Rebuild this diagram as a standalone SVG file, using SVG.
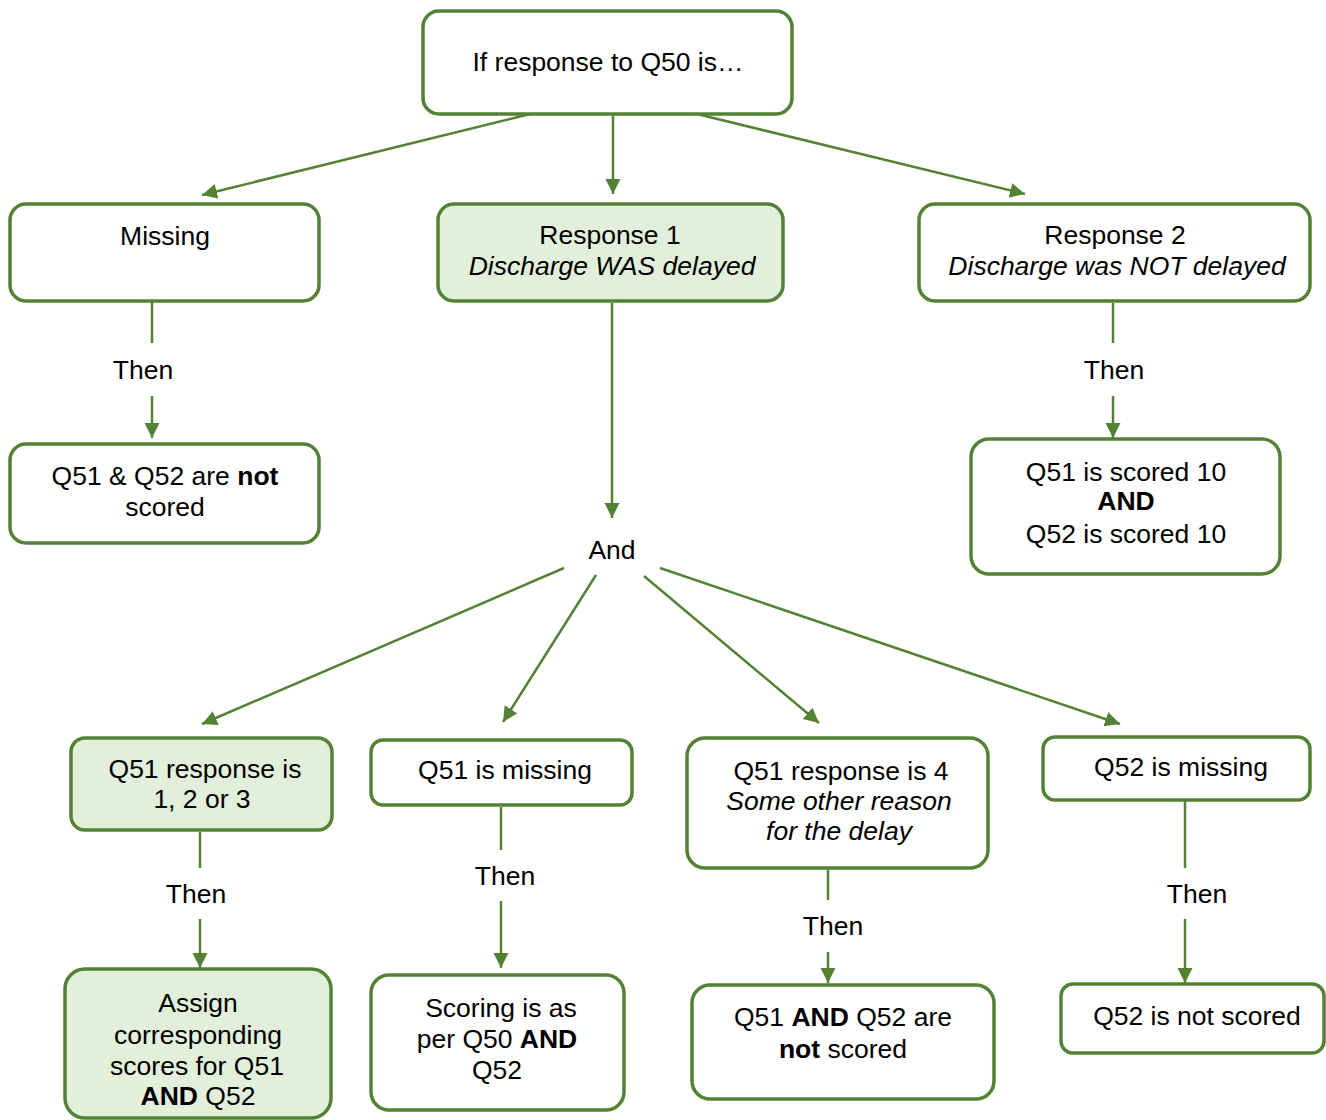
<svg xmlns="http://www.w3.org/2000/svg" width="1326" height="1120" viewBox="0 0 1326 1120">
<defs>
<style>
.box{fill:#ffffff;stroke:#548235;stroke-width:3.5}
.g{fill:#e2efda}
.c{stroke:#548235;stroke-width:2.5;fill:none}
text{font-family:"Liberation Sans",Arial,sans-serif;font-size:26.5px;fill:#000;text-anchor:middle}
.b{font-weight:bold}
.i{font-style:italic}
</style>
<marker id="ah" viewBox="0 0 10 10" refX="10" refY="5" markerWidth="6" markerHeight="6.4" orient="auto" markerUnits="strokeWidth">
<path d="M0,0 L10,5 L0,10 Z" fill="#548235"/>
</marker>
</defs>
<rect width="1326" height="1120" fill="#ffffff"/>
<g id="connectors">
<line class="c" x1="530" y1="114" x2="202" y2="195" marker-end="url(#ah)"/>
<line class="c" x1="613" y1="114" x2="613" y2="194" marker-end="url(#ah)"/>
<line class="c" x1="697" y1="114" x2="1025" y2="194" marker-end="url(#ah)"/>
<line class="c" x1="152" y1="302" x2="152" y2="343"/>
<line class="c" x1="152" y1="396" x2="152" y2="438" marker-end="url(#ah)"/>
<line class="c" x1="612" y1="303" x2="612" y2="518" marker-end="url(#ah)"/>
<line class="c" x1="1113" y1="303" x2="1113" y2="343"/>
<line class="c" x1="1113" y1="396" x2="1113" y2="438" marker-end="url(#ah)"/>
<line class="c" x1="564" y1="568" x2="202" y2="724" marker-end="url(#ah)"/>
<line class="c" x1="596" y1="575" x2="503" y2="722" marker-end="url(#ah)"/>
<line class="c" x1="644" y1="576" x2="819" y2="723" marker-end="url(#ah)"/>
<line class="c" x1="660" y1="568" x2="1120" y2="724" marker-end="url(#ah)"/>
<line class="c" x1="200" y1="832" x2="200" y2="868"/>
<line class="c" x1="200" y1="919" x2="200" y2="968" marker-end="url(#ah)"/>
<line class="c" x1="501" y1="807" x2="501" y2="850"/>
<line class="c" x1="501" y1="901" x2="501" y2="968" marker-end="url(#ah)"/>
<line class="c" x1="828" y1="870" x2="828" y2="900"/>
<line class="c" x1="828" y1="952" x2="828" y2="983" marker-end="url(#ah)"/>
<line class="c" x1="1185" y1="801" x2="1185" y2="868"/>
<line class="c" x1="1185" y1="919" x2="1185" y2="983" marker-end="url(#ah)"/>
</g>
<g id="labels">
<text x="143" y="379">Then</text>
<text x="1114" y="379">Then</text>
<text x="612" y="559">And</text>
<text x="196" y="903">Then</text>
<text x="505" y="885">Then</text>
<text x="833" y="935">Then</text>
<text x="1197" y="903">Then</text>
</g>
<g id="n_top"><rect class="box" x="423" y="11" width="369" height="103" rx="16"/><text x="608" y="71">If response to Q50 is…</text></g>
<g id="n_missing"><rect class="box" x="10" y="204" width="309" height="97" rx="16"/><text x="165" y="245">Missing</text></g>
<g id="n_resp1"><rect class="box g" x="438" y="204" width="345" height="97" rx="16"/><text x="610" y="244">Response 1</text><text x="612" y="275" class="i">Discharge WAS delayed</text></g>
<g id="n_resp2"><rect class="box" x="919" y="204" width="391" height="97" rx="16"/><text x="1115" y="244">Response 2</text><text x="1117" y="275" class="i">Discharge was NOT delayed</text></g>
<g id="n_notscored"><rect class="box" x="10" y="444" width="309" height="99" rx="16"/><text x="165" y="485">Q51 &amp; Q52 are <tspan class="b">not</tspan></text><text x="165" y="516">scored</text></g>
<g id="n_scored10"><rect class="box" x="971" y="439" width="309" height="135" rx="18"/><text x="1126" y="481">Q51 is scored 10</text><text x="1126" y="510" class="b">AND</text><text x="1126" y="543">Q52 is scored 10</text></g>
<g id="n_q51_123"><rect class="box g" x="71" y="738" width="261" height="92" rx="14"/><text x="205" y="778">Q51 response is</text><text x="202" y="808">1, 2 or 3</text></g>
<g id="n_q51_missing"><rect class="box" x="371" y="740" width="261" height="65" rx="12"/><text x="505" y="779">Q51 is missing</text></g>
<g id="n_q51_4"><rect class="box" x="687" y="738" width="301" height="130" rx="18"/><text x="841" y="780">Q51 response is 4</text><text x="839" y="810" class="i">Some other reason</text><text x="839" y="840" class="i">for the delay</text></g>
<g id="n_q52_missing"><rect class="box" x="1043" y="737" width="267" height="63" rx="12"/><text x="1181" y="776">Q52 is missing</text></g>
<g id="n_assign"><rect class="box g" x="65" y="969" width="266" height="149" rx="20"/><text x="198" y="1012">Assign</text><text x="198" y="1044">corresponding</text><text x="197" y="1075">scores for Q51</text><text x="198" y="1105"><tspan class="b">AND</tspan> Q52</text></g>
<g id="n_scoring"><rect class="box" x="371" y="975" width="253" height="135" rx="18"/><text x="501" y="1017">Scoring is as</text><text x="497" y="1048">per Q50 <tspan class="b">AND</tspan></text><text x="497" y="1079">Q52</text></g>
<g id="n_bothnot"><rect class="box" x="692" y="985" width="302" height="114" rx="18"/><text x="843" y="1026">Q51 <tspan class="b">AND</tspan> Q52 are</text><text x="843" y="1058"><tspan class="b">not</tspan> scored</text></g>
<g id="n_q52not"><rect class="box" x="1061" y="984" width="263" height="69" rx="12"/><text x="1197" y="1025">Q52 is not scored</text></g>
</svg>
